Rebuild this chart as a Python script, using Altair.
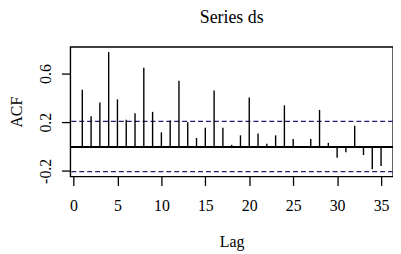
import altair as alt
import pandas as pd

# ACF values for lags 1..35
lags = list(range(1, 36))
acf_vals = [0.466, 0.25, 0.363, 0.778, 0.388, 0.22, 0.274, 0.648, 0.285, 0.117,
            0.214, 0.54, 0.2, 0.07, 0.155, 0.461, 0.155, 0.014, 0.092, 0.404,
            0.108, 0.022, 0.092, 0.339, 0.062, -0.008, 0.062, 0.301, 0.03, -0.092,
            -0.046, 0.171, -0.07, -0.187, -0.16]
conf_limit = 0.207
x_ticks = [0, 5, 10, 15, 20, 25, 30, 35]
y_ticks = [-0.2, 0.0, 0.2, 0.4, 0.6, 0.8]
y_labelled = ["-0.2", "0.2", "0.6"]
y_labelled_vals = [-0.2, 0.2, 0.6]
title_text = "Series ds"

df = pd.DataFrame({"lag": lags, "acf": acf_vals, "zero": [0.0] * len(lags)})
ci = pd.DataFrame({"c": [conf_limit, -conf_limit]})
tdf = pd.DataFrame({"t": [title_text]})

FONT = "Liberation Serif"
xscale = alt.Scale(domain=[-0.36, 36.36], nice=False, zero=False)
yscale = alt.Scale(domain=[-0.2465, 0.8195], nice=False, zero=False)

label_expr = " : ".join(
    f"abs(datum.value - ({v})) < 1e-6 ? '{s}'" for v, s in zip(y_labelled_vals, y_labelled)
) + " : ''"

bars = alt.Chart(df).mark_rule(color="black", strokeWidth=1.4).encode(
    x=alt.X("lag:Q", scale=xscale, title="Lag",
            axis=alt.Axis(values=x_ticks, labelExpr="'' + datum.value", tickSize=9,
                          tickColor="black", tickWidth=1.3, domain=False, grid=False,
                          labelFont=FONT, labelFontSize=16, labelColor="black",
                          labelBaseline="alphabetic", labelPadding=25, labelFlush=False,
                          labelOverlap=False, titleFont=FONT, titleFontSize=16,
                          titleFontWeight="normal", titleColor="black",
                          titleBaseline="alphabetic", titleY=71)),
    y=alt.Y("zero:Q", scale=yscale, title="ACF",
            axis=alt.Axis(values=y_ticks, labelExpr=label_expr, tickSize=9,
                          tickColor="black", tickWidth=1.3, domain=False, grid=False,
                          labelFont=FONT, labelFontSize=16, labelColor="black",
                          labelAngle=-90, labelAlign="center", labelBaseline="alphabetic",
                          labelPadding=11, labelOverlap=False, labelFlush=False,
                          titleFont=FONT, titleFontSize=16, titleFontWeight="normal",
                          titleColor="black", titleX=-54, titleY=65.5,
                          titleBaseline="middle", titleAngle=-90)),
    y2="acf:Q",
)

zero_line = alt.Chart(df).mark_rule(color="black", strokeWidth=1.2).encode(
    y=alt.datum(0.0, scale=yscale)
)

ci_lines = alt.Chart(ci).mark_rule(color="#202070", strokeWidth=1.3, strokeDash=[5, 3]).encode(
    y=alt.Y("c:Q", scale=yscale)
)

title_mark = alt.Chart(tdf).mark_text(
    font=FONT, fontSize=18, color="black", align="center", baseline="alphabetic"
).encode(text="t:N", x=alt.value(163), y=alt.value(-24))

chart = alt.layer(ci_lines, zero_line, bars, title_mark).properties(
    width=326, height=131,
    autosize=alt.AutoSizeParams(type="none"),
    padding={"left": 63, "top": 38, "right": 0, "bottom": 76},
    background="white",
).configure_view(stroke="black", strokeWidth=1.4).configure_axis(
    labelFont=FONT, titleFont=FONT
)

chart.save("out.html", embed_options={"renderer": "svg", "actions": False})
